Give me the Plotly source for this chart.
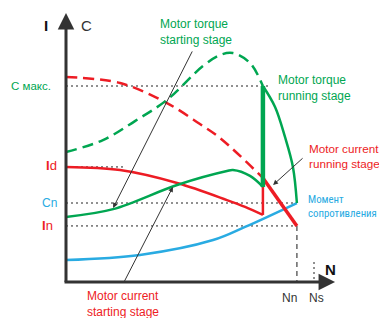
import plotly.graph_objects as go

# Horizontal axis: speed in % of synchronous speed (Ns = 100)
# Vertical axis: value in % of the maximum torque (C max = 100)
N_SWITCH = 79.4
N_N = 93.1
N_S = 100.0
C_MAX = 100.0
I_D = 58.7
C_N = 40.3
I_N = 28.6

# Motor torque (direct-on-line curve, dashed)
torque_dol_speed = [0, 14.9, 27.8, 40.7, 55.2, 62.1, 67.3, 74.2, 79.4]
torque_dol_val = [66.3, 72.4, 82.1, 92.9, 110.2, 115.8, 116.8, 111.7, 100.0]

# Motor torque, starting stage
torque_start_speed = [0, 19.0, 44.8, 64.9, 67.3, 74.2, 79.4]
torque_start_val = [33.2, 37.2, 49.5, 56.6, 57.1, 54.1, 48.5]

# Motor torque, running stage
torque_run_speed = [79.4, 84.3, 88.3, 91.5, 93.1]
torque_run_val = [100.0, 89.3, 74.0, 58.7, 40.3]

# Motor current (direct-on-line curve, dashed)
current_dol_speed = [0, 21.8, 40.7, 54.0, 62.1, 79.4]
current_dol_val = [104.6, 101.5, 91.3, 80.6, 73.5, 53.1]

# Motor current, starting stage
current_start_speed = [0, 21.8, 44.8, 64.9, 72.2, 79.4]
current_start_val = [58.7, 57.1, 50.5, 41.8, 38.3, 34.2]

# Motor current, running stage
current_run_speed = [79.4, 93.1]
current_run_val = [53.1, 28.6]

# Load torque (Момент сопротивления)
load_speed = [0, 29.8, 59.3, 72.2, 93.1]
load_val = [11.2, 13.8, 21.4, 28.1, 40.3]

GREEN = "#00a651"
RED = "#ed1c24"
BLUE = "#29abe2"
DARK = "#333333"
FONT = "Liberation Sans, Arial, sans-serif"
NARROW = "Liberation Sans Narrow, Arial Narrow, Roboto Condensed, DejaVu Sans Condensed, Liberation Sans, sans-serif"

# the page body has an 8px margin; the figure fills the rest of the window
PAGE_MARGIN = 8
WIN_W, WIN_H = 387, 318
X0_PX, Y0_PX, PX_PER_X, PX_PER_Y = 66, 282, 2.48, 1.96

fig = go.Figure()


def add_line(x, y, color, width, dash="solid", shape="spline"):
    fig.add_trace(go.Scatter(x=x, y=y, mode="lines",
                             line=dict(color=color, width=width, dash=dash, shape=shape),
                             hoverinfo="skip", showlegend=False))


# reference dotted lines
add_line([0, 82], [C_MAX, C_MAX], "#222222", 1, "2px,3px", "linear")
add_line([0, 23], [I_D, I_D], "#222222", 1, "2px,3px", "linear")
add_line([0, N_N], [C_N, C_N], "#222222", 1, "2px,3px", "linear")
add_line([0, N_N], [I_N, I_N], "#222222", 1, "2px,3px", "linear")
add_line([N_N, N_N], [I_N, 0], "#666666", 1.5, "5px,4px", "linear")
add_line([N_S, N_S], [10.2, 0], "#222222", 1, "2px,3px", "linear")

# curves
add_line(load_speed, load_val, BLUE, 2.5)
add_line(current_dol_speed, current_dol_val, RED, 2.5, "11px,6px")
add_line(torque_dol_speed, torque_dol_val, GREEN, 2.5, "11px,6px")
add_line(current_start_speed, current_start_val, RED, 2.5)
add_line([N_SWITCH, N_SWITCH], [current_start_val[-1], current_run_val[0]], RED, 2.5, shape="linear")
add_line(current_run_speed, current_run_val, RED, 3.5, shape="linear")
add_line(torque_start_speed, torque_start_val, GREEN, 2.5)
add_line(torque_run_speed, torque_run_val, GREEN, 2.5)
add_line([N_SWITCH, N_SWITCH], [torque_start_val[-1], torque_run_val[0]], GREEN, 4.5, shape="linear")

ann = []


def arrow(hx, hy, tx, ty, width=1, color=DARK, head=2, size=1):
    ann.append(dict(x=hx, y=hy, ax=tx, ay=ty, xref="x", yref="y", axref="x", ayref="y",
                    text="", showarrow=True, arrowhead=head, arrowsize=size,
                    arrowwidth=width, arrowcolor=color))


def label(x, y, text, color, size, xanchor="left", align="left", family=FONT):
    ann.append(dict(x=x, y=y, xref="x", yref="y", text=text, showarrow=False,
                    xanchor=xanchor, yanchor="middle", align=align, borderpad=0,
                    font=dict(family=family, size=size, color=color)))


# axes with arrows
arrow(108.5, 0, -1.2, 0, width=3, color=DARK, head=2, size=1.1)
arrow(0, 137.2, 0, -0.8, width=3, color=DARK, head=2, size=1.1)

# annotation arrows
arrow(19.0, 37.8, 51.2, 118.4)
arrow(43.1, 48.5, 23.0, -1.0)
arrow(83.5, 49.5, 96.0, 63.8)

# axis titles
label(-8.1, 131.1, "<b>I</b>", "#111111", 15, "center", "center")
label(8.1, 131.1, "C", DARK, 15, "center", "center")
label(106.5, 6.6, "<b>N</b>", "#111111", 15, "center", "center")
label(90.3, -8.2, "Nn", DARK, 12, "center", "center")
label(101.2, -8.2, "Ns", DARK, 12, "center", "center")

# value labels
label(-14.1, C_MAX, "C макс.", GREEN, 11.5, "center", "center")
label(-6.0, I_D + 0.5, "<b>I</b>d", RED, 13, "center", "center")
label(-6.5, C_N, "Cn", BLUE, 12, "center", "center")
label(-7.3, I_N, "<b>I</b>n", RED, 13, "center", "center")

# series labels
label(37.3, 127.5, "Motor torque<br>starting stage", GREEN, 12)
label(85.2, 99.0, "Motor torque<br>running stage", GREEN, 12)
label(97.6, 64.3, "Motor current<br>running stage", RED, 11.7)
label(97.0, 38.3, "Момент<br>сопротивления", BLUE, 10.8, family=NARROW)
label(8.1, -11.2, "Motor current<br>starting stage", RED, 12)

fig_w = WIN_W - PAGE_MARGIN
fig_h = WIN_H - PAGE_MARGIN
x_lo = (PAGE_MARGIN - X0_PX) / PX_PER_X
x_hi = (WIN_W - X0_PX) / PX_PER_X
y_lo = (Y0_PX - WIN_H) / PX_PER_Y
y_hi = (Y0_PX - PAGE_MARGIN) / PX_PER_Y

fig.update_layout(
    width=fig_w, height=fig_h,
    margin=dict(l=0, r=0, t=0, b=0),
    paper_bgcolor="white", plot_bgcolor="white",
    xaxis=dict(range=[x_lo, x_hi], visible=False, fixedrange=True),
    yaxis=dict(range=[y_lo, y_hi], visible=False, fixedrange=True),
    annotations=ann,
    showlegend=False,
)

fig.write_html("out.html")
